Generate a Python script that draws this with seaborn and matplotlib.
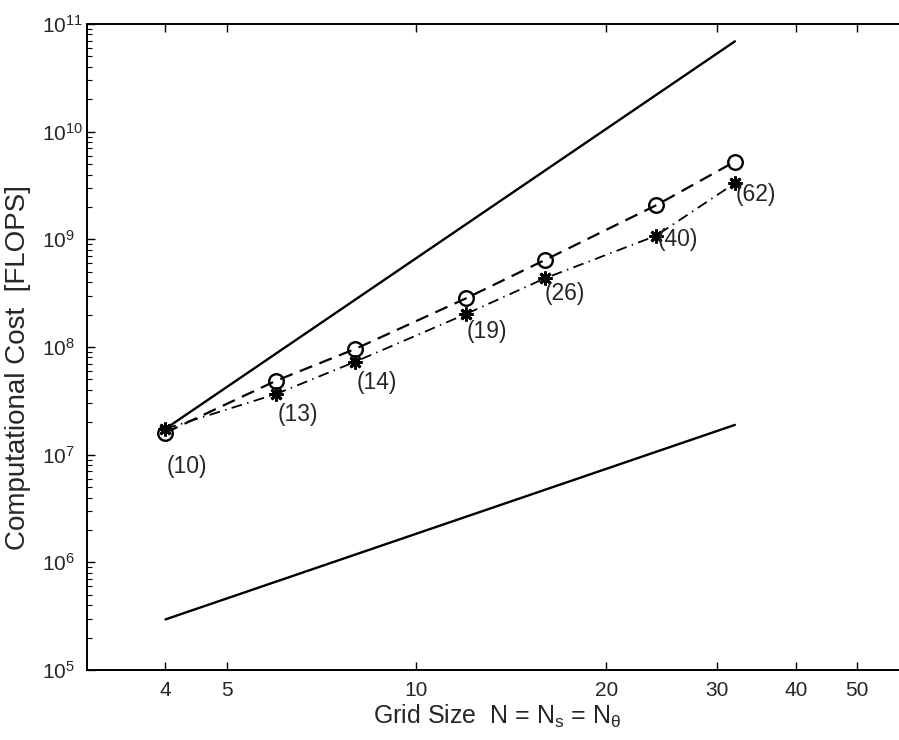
import numpy as np
import pandas as pd
import matplotlib
matplotlib.use("Agg")
import matplotlib.pyplot as plt
import matplotlib.ticker as mticker
import seaborn as sns

# ---- data ----
grid_n = [4, 6, 8, 12, 16, 24, 32]
cost_circle = [1.60e7, 4.88e7, 9.6e7, 2.84e8, 6.44e8, 2.07e9, 5.27e9]
cost_star = [1.74e7, 3.67e7, 7.3e7, 2.03e8, 4.35e8, 1.08e9, 3.32e9]
iter_labels = ["(10)", "(13)", "(14)", "(19)", "(26)", "(40)", "(62)"]
ref_n = [4, 32]
ref_upper = [1.74e7, 6.9e10]
ref_lower = [2.95e5, 1.89e7]
xtick_vals = [4, 5, 10, 20, 30, 40, 50]
ytick_vals = [1e5, 1e6, 1e7, 1e8, 1e9, 1e10, 1e11]

# label offsets in pixels (right, down) from the star markers
label_dx = [21.7, 21.7, 21.7, 21.0, 20.0, 21.3, 21.0]
label_dy = [37.7, 21.0, 21.0, 17.7, 15.7, 3.3, 11.7]

sns.set_style("ticks")
plt.rcParams["font.family"] = ["Liberation Sans", "DejaVu Sans"]
plt.rcParams["mathtext.fontset"] = "custom"
plt.rcParams["mathtext.rm"] = "Liberation Sans"
plt.rcParams["mathtext.it"] = "Liberation Sans:italic"

AX_L, AX_R, AX_T, AX_B = 86.7, 907.0, 24.0, 670.0
fig = plt.figure(figsize=(8.99, 7.40), dpi=100)
ax = fig.add_axes([AX_L / 899, 1 - AX_B / 740, (AX_R - AX_L) / 899, (AX_B - AX_T) / 740])

df_c = pd.DataFrame({"N": grid_n, "cost": cost_circle})
df_s = pd.DataFrame({"N": grid_n, "cost": cost_star})
df_u = pd.DataFrame({"N": ref_n, "cost": ref_upper})
df_l = pd.DataFrame({"N": ref_n, "cost": ref_lower})

sns.lineplot(data=df_u, x="N", y="cost", ax=ax, color="black", lw=1.7,
             linestyle="-")
sns.lineplot(data=df_l, x="N", y="cost", ax=ax, color="black", lw=1.7,
             linestyle="-")
sns.lineplot(data=df_c, x="N", y="cost", ax=ax, color="black", lw=1.6,
             linestyle=(0, (6, 3.5)), marker="o", markersize=10.5,
             markerfacecolor="none", markeredgecolor="black",
             markeredgewidth=1.7)
sns.lineplot(data=df_s, x="N", y="cost", ax=ax, color="black", lw=1.3,
             linestyle=(0, (6, 3, 0.8, 3)), marker=(8, 2, 0), markersize=10,
             markeredgecolor="black", markeredgewidth=2.0)

ax.set_xscale("log")
ax.set_yscale("log")
ax.set_xlim(3, 60)
ax.set_ylim(1e5, 1e11)

ax.xaxis.set_major_locator(mticker.FixedLocator(xtick_vals))
ax.xaxis.set_major_formatter(mticker.FixedFormatter([str(v) for v in xtick_vals]))
ax.xaxis.set_minor_locator(mticker.NullLocator())
ax.yaxis.set_major_locator(mticker.FixedLocator(ytick_vals))
ax.yaxis.set_minor_locator(mticker.LogLocator(base=10, subs=np.arange(2, 10), numticks=20))
ax.yaxis.set_minor_formatter(mticker.NullFormatter())

ax.tick_params(which="both", direction="in", top=True, right=True, color="black")
ax.tick_params(which="major", length=6, width=1.0)
ax.tick_params(which="minor", length=3.5, width=0.8)
ax.tick_params(axis="x", labelsize=15, pad=8)
# y labels left-aligned (base "10" aligned), left edge ~x=42 px
ax.tick_params(axis="y", labelsize=15, pad=(AX_L - 42) * 0.72)
plt.setp(ax.get_yticklabels(), ha="left")
for sp in ax.spines.values():
    sp.set_linewidth(1.4)
    sp.set_color("black")

for n, c, lbl, dx, dy in zip(grid_n, cost_star, iter_labels, label_dx, label_dy):
    ax.annotate(lbl, (n, c), xytext=(dx * 0.72, -dy * 0.72),
                textcoords="offset points", ha="center", va="center",
                fontsize=16.5)

ax.set_xlabel(r"Grid Size  N = N$_\mathrm{s}$ = N$_\mathrm{θ}$", fontsize=18)
ax.set_ylabel("Computational Cost  [FLOPS]", fontsize=20)
ax.xaxis.set_label_coords((497 - AX_L) / (AX_R - AX_L), -(703 - AX_B) / (AX_B - AX_T))
ax.yaxis.set_label_coords((31 - AX_L) / (AX_R - AX_L), (AX_B - 368) / (AX_B - AX_T))

fig.savefig("out.png", dpi=100)
